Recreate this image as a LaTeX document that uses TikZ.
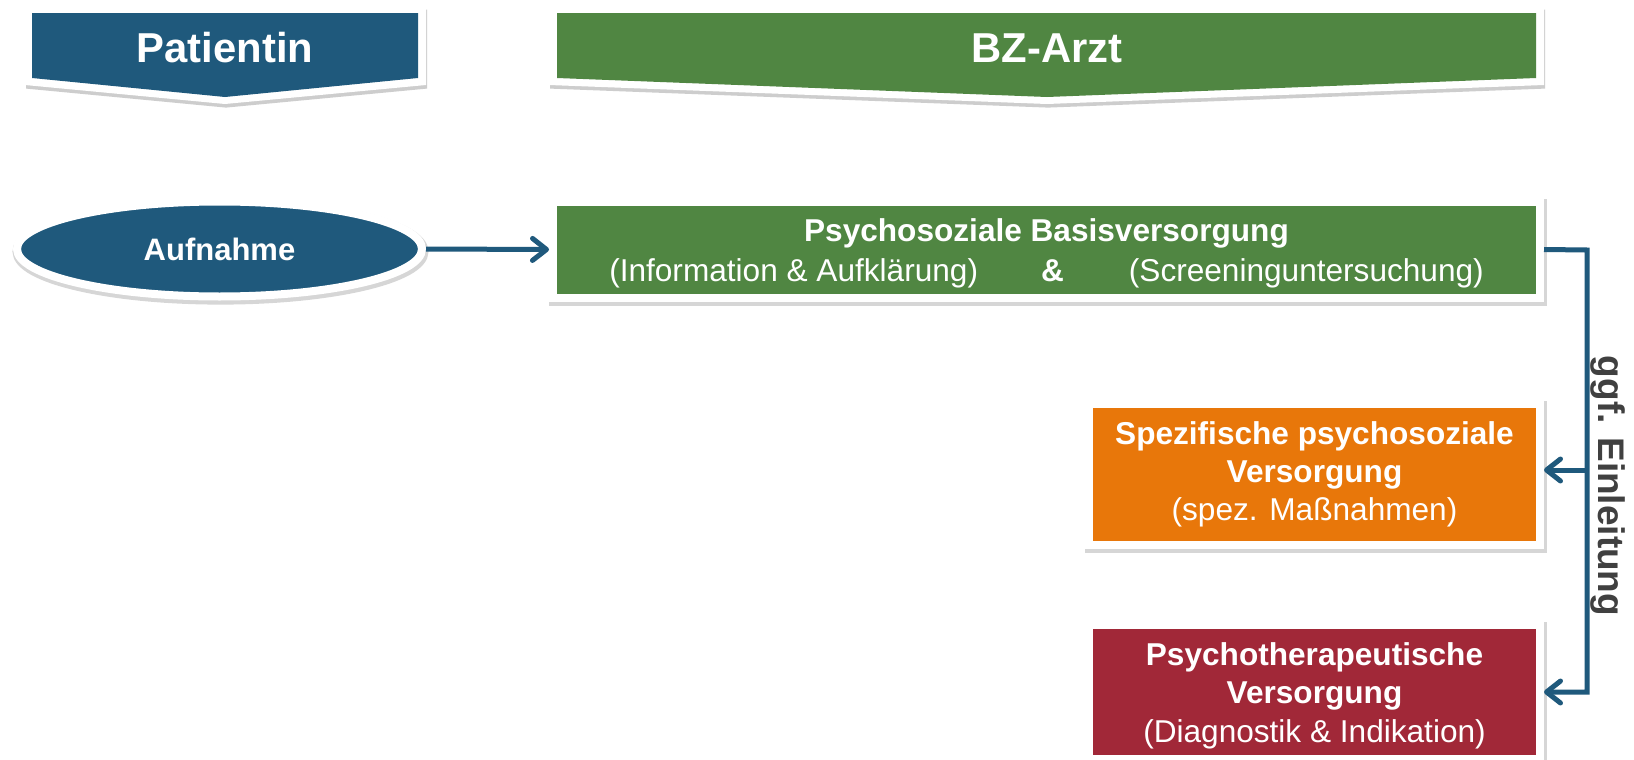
\documentclass[tikz,border=0pt]{standalone}
\usepackage{fontspec}
\setmainfont{Liberation Sans}
\usetikzlibrary{arrows.meta,shapes.geometric,shadows}
\definecolor{cblue}{HTML}{1F597C}
\definecolor{cgreen}{HTML}{508642}
\definecolor{corange}{HTML}{E8770A}
\definecolor{cred}{HTML}{A12838}
\definecolor{cgrey}{HTML}{404040}
\begin{document}
\begin{tikzpicture}[x=0.5pt,y=-0.5pt,
  shad/.style={drop shadow={shadow xshift=0.5pt,shadow yshift=-1.8pt,opacity=0.28,fill=black!70}},
  nshad/.style={preaction={draw=black,opacity=0.16,line width=5.5pt,transform canvas={xshift=0.5pt,yshift=-1.3pt}}},
  box/.style={draw=white,line width=4pt,text=white,align=center,inner sep=0pt,nshad},
  bigfont/.style={font=\bfseries\fontsize{20.9pt}{24pt}\selectfont},
  conn/.style={draw=cblue,line width=2.5pt,line join=miter},
  arr/.style={conn,-{Straight Barb[length=7pt,width=11pt,line cap=round,line join=round]}}]

\useasboundingbox[fill=white] (0,0) rectangle (1634,760);

% banners
\path[fill=white,shad] (25,6) -- (426,6) -- (426,85) -- (225,104) -- (25,85) -- cycle;
\fill[cblue] (32,13) -- (418,13) -- (418,78) -- (225,97) -- (32,78) -- cycle;
\node[bigfont,text=white,anchor=base,inner sep=0pt] (pat) at (225,62) {Patientin};

\path[fill=white,shad] (549,6) -- (1544,6) -- (1544,85) -- (1047,104) -- (549,85) -- cycle;
\fill[cgreen] (557,13) -- (1536,13) -- (1536,78) -- (1047,97) -- (557,78) -- cycle;
\node[bigfont,text=white,anchor=base,inner sep=0pt] (bz) at (1047,62) {BZ-Arzt};

% Aufnahme
\node[ellipse,draw=white,line width=4pt,fill=cblue,nshad,text=white,inner sep=0pt,
      minimum width=202.5pt,minimum height=47.5pt,
      font=\bfseries\fontsize{15.5pt}{18pt}\selectfont] (auf) at (219.5,249)
      {\raisebox{-2.5pt}{Aufnahme}};

% Psychosoziale Basisversorgung
\node[box,fill=cgreen,minimum width=493.5pt,minimum height=48pt,
      font=\fontsize{15.8pt}{20pt}\selectfont] (psy) at (1046.5,249.5)
  {\rule{0pt}{15.5pt}\textbf{Psychosoziale Basisversorgung}\\
   (Information \& Aufklärung)\hspace{31.5pt}\textbf{\&}\hspace{32.5pt}(Screeninguntersuchung)};

% Spezifische
\node[box,fill=corange,minimum width=225.5pt,minimum height=70.75pt,
      font=\fontsize{15.8pt}{19.2pt}\selectfont] (spez) at (1314.5,474.25)
  {\textbf{Spezifische psychosoziale}\\ \textbf{Versorgung}\\ (spez. Maßnahmen)};

% Psychotherapeutische
\node[box,fill=cred,minimum width=225.5pt,minimum height=67pt,
      font=\fontsize{15.8pt}{19.2pt}\selectfont] (psth) at (1314.5,691.5)
  {\rule{0pt}{15.5pt}\textbf{Psychotherapeutische}\\ \textbf{Versorgung}\\ (Diagnostik \& Indikation)};

% connectors
\coordinate (c1) at (1587,250);
\coordinate (c2) at (1587,692);
\coordinate (c3) at (1587,470);
\draw[arr] (auf.east) -- (psy.west);
\draw[arr] (psy.east) -- (c1) -- (c2) -- (c2 -| psth.east);
\draw[arr] (c3) -- (c3 -| spez.east);

\node[rotate=-90,anchor=base,inner sep=0pt,text=cgrey,
      font=\bfseries\fontsize{18.5pt}{20pt}\selectfont] (ggf) at (1598,486) {ggf. Einleitung};
\end{tikzpicture}
\end{document}
